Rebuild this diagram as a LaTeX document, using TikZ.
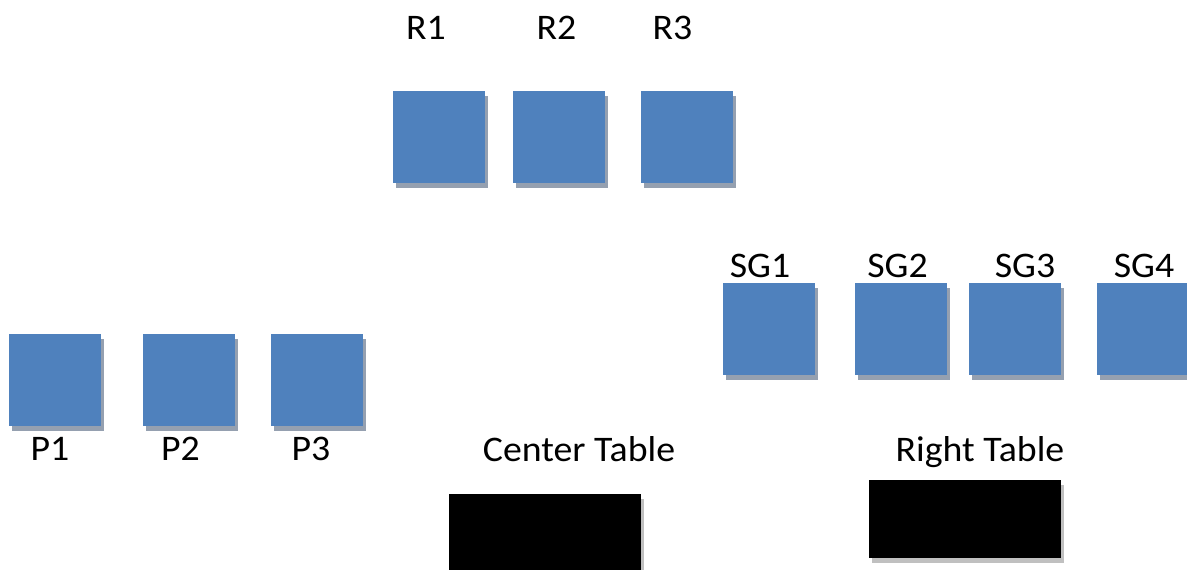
\documentclass[tikz,border=0pt]{standalone}
\usepackage{fontspec}
\setmainfont[FakeStretch=1.05]{Carlito}
\usetikzlibrary{shadows}
\definecolor{boxblue}{RGB}{79,129,189}
\definecolor{shadowblue}{RGB}{149,160,176}
\definecolor{shadowgray}{RGB}{192,192,192}
\tikzset{
  sq/.style={rectangle, inner sep=0pt, minimum width=92pt, minimum height=92pt, fill=boxblue, draw=none,
    drop shadow={shadow xshift=3pt, shadow yshift=-5pt, fill=shadowblue, opacity=1}},
  tablebox/.style={rectangle, inner sep=0pt, minimum width=192pt, minimum height=78pt, fill=black, draw=none,
    drop shadow={shadow xshift=3pt, shadow yshift=-5pt, fill=shadowgray, opacity=1}},
  lbl/.style={anchor=base, inner sep=0pt, font=\fontsize{36}{40}\selectfont}
}
\begin{document}
\begin{tikzpicture}[x=1pt, y=-1pt]
\useasboundingbox (0,0) rectangle (1187,570);
\clip (0,0) rectangle (1187,570);
% R row
\node[sq] (r1) at (439,137) {};
\node[sq] (r2) at (559,137) {};
\node[sq] (r3) at (687,137) {};
\node[lbl] (r1l) at (426,39.5) {R1};
\node[lbl] (r2l) at (556.5,39.5) {R2};
\node[lbl] (r3l) at (672.5,39.5) {R3};
% SG row
\node[sq] (sg1) at (769,329) {};
\node[sq] (sg2) at (901,329) {};
\node[sq] (sg3) at (1015,329) {};
\node[sq] (sg4) at (1143,329) {};
\node[lbl] (sg1l) at (760,277.5) {SG1};
\node[lbl] (sg2l) at (897.5,277.5) {SG2};
\node[lbl] (sg3l) at (1025,277.5) {SG3};
\node[lbl] (sg4l) at (1144,277.5) {SG4};
% P row
\node[sq] (p1) at (55,380) {};
\node[sq] (p2) at (189,380) {};
\node[sq] (p3) at (317,380) {};
\node[lbl] (p1l) at (50,460.5) {P1};
\node[lbl] (p2l) at (180.5,460.5) {P2};
\node[lbl] (p3l) at (311,460.5) {P3};
% tables
\node[tablebox] (ct) at (545,533) {};
\node[tablebox] (rt) at (965,519) {};
\node[lbl] (ctl) at (579,461.5) {Center Table};
\node[lbl] (rtl) at (980,461.5) {Right Table};
\end{tikzpicture}
\end{document}
